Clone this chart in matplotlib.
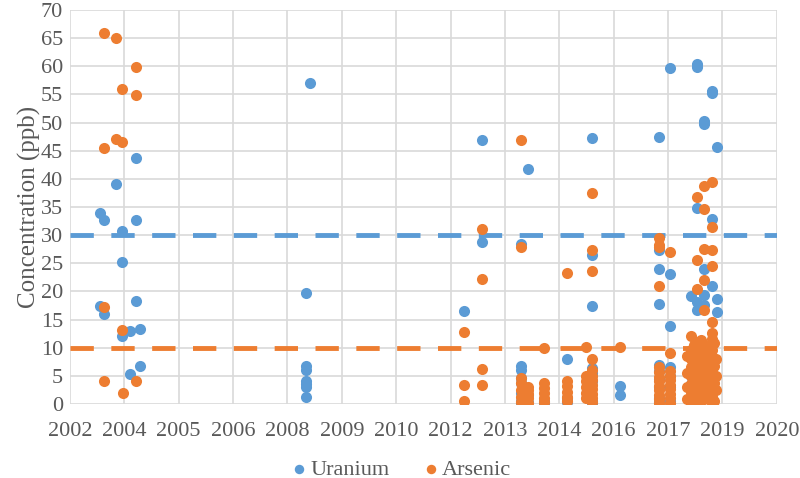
import matplotlib.pyplot as plt
import numpy as np

# Excel style date axis: starts 1 Sep 2002, major unit 500 days
axis_start = 2002.666
major_unit = 500 / 365.25
n_ticks = 14

uranium_year = [
    2003.43, 2003.43, 2003.53, 2003.53, 2003.83, 2003.98, 2003.98, 2003.98,
    2004.18, 2004.18, 2004.33, 2004.33, 2004.33, 2004.42, 2004.42,
    2008.62, 2008.62, 2008.62, 2008.62, 2008.62, 2008.62, 2008.62, 2008.70,
    2012.58, 2013.03, 2013.03,
    2014.01, 2014.01, 2014.01, 2014.01, 2014.01, 2014.01, 2014.01, 2014.01,
    2014.19, 2014.19, 2014.19, 2014.61, 2014.61,
    2015.18, 2015.18, 2015.18,
    2015.82, 2015.82, 2015.82, 2015.82, 2015.82, 2015.82, 2015.82, 2015.82,
    2016.52, 2016.52,
    2017.49, 2017.49, 2017.49, 2017.49, 2017.49, 2017.49, 2017.49, 2017.49, 2017.49, 2017.49,
    2017.78, 2017.78, 2017.78, 2017.78, 2017.78, 2017.78, 2017.78,
    2018.29, 2018.29, 2018.29, 2018.29,
    2018.46, 2018.46, 2018.46, 2018.46, 2018.46, 2018.46,
    2018.62, 2018.62, 2018.62, 2018.62, 2018.62,
    2018.84, 2018.84, 2018.84, 2018.84,
    2018.96, 2018.96, 2018.96,
]
uranium_ppb = [
    34.0, 17.4, 32.6, 15.9, 39.0, 30.7, 25.3, 12.1,
    13.0, 5.4, 43.7, 32.7, 18.3, 13.4, 6.7,
    19.8, 6.8, 6.1, 4.0, 3.6, 3.0, 1.2, 57.1,
    16.6, 46.9, 28.8,
    28.5, 6.8, 6.0, 4.6, 3.7, 2.0, 0.6, 0.1,
    41.7, 1.5, 0.3, 0.1, 0.5,
    7.9, 0.4, 1.0,
    47.2, 26.5, 17.4, 6.3, 5.5, 4.0, 0.1, 0.5,
    3.1, 1.6,
    47.5, 27.4, 23.9, 17.8, 6.9, 5.8, 4.5, 3.0, 1.0, 0.3,
    59.7, 23.1, 13.8, 6.6, 5.0, 3.0, 0.5,
    19.1, 6.0, 4.9, 3.5,
    60.4, 59.9, 34.9, 18.2, 16.7, 5.5,
    50.3, 49.7, 24.0, 19.4, 17.6,
    55.6, 55.2, 32.8, 21.0,
    45.7, 18.7, 16.4,
]

arsenic_year = [
    2003.53, 2003.53, 2003.53, 2003.53, 2003.83, 2003.83,
    2003.98, 2003.98, 2003.98, 2004.01, 2004.33, 2004.33, 2004.33,
    2012.58, 2012.58, 2012.58,
    2013.03, 2013.03, 2013.03, 2013.03,
    2014.01, 2014.01, 2014.01, 2014.01, 2014.01, 2014.01, 2014.01,
    2014.19, 2014.19, 2014.19, 2014.19, 2014.19,
    2014.61, 2014.61, 2014.61, 2014.61, 2014.61, 2014.61,
    2015.18, 2015.18, 2015.18, 2015.18, 2015.18, 2015.18,
    2015.67, 2015.67, 2015.67, 2015.67, 2015.67, 2015.67,
    2015.82, 2015.82, 2015.82, 2015.82, 2015.82, 2015.82,
    2015.82, 2015.82, 2015.82, 2015.82, 2015.82, 2015.82,
    2016.52,
    2017.49, 2017.49, 2017.49, 2017.49, 2017.49, 2017.49, 2017.49,
    2017.49, 2017.49, 2017.49, 2017.49, 2017.49, 2017.49,
    2017.78, 2017.78, 2017.78, 2017.78, 2017.78, 2017.78, 2017.78,
    2017.78, 2017.78, 2017.78,
    2018.20, 2018.20, 2018.20, 2018.20,
    2018.29, 2018.29, 2018.29, 2018.29, 2018.29, 2018.29, 2018.29, 2018.29, 2018.29,
    2018.38, 2018.38, 2018.38, 2018.38,
    2018.46, 2018.46, 2018.46, 2018.46, 2018.46, 2018.46, 2018.46,
    2018.46, 2018.46, 2018.46, 2018.46,
    2018.55, 2018.55, 2018.55, 2018.55, 2018.55, 2018.55, 2018.55, 2018.55,
    2018.62, 2018.62, 2018.62, 2018.62, 2018.62, 2018.62,
    2018.62, 2018.62, 2018.62, 2018.62, 2018.62, 2018.62,
    2018.70, 2018.70, 2018.70, 2018.70,
    2018.74, 2018.74, 2018.74, 2018.74, 2018.74,
    2018.84, 2018.84, 2018.84, 2018.84, 2018.84, 2018.84, 2018.84,
    2018.84, 2018.84, 2018.84, 2018.84, 2018.84, 2018.84, 2018.84,
    2018.88, 2018.88, 2018.88, 2018.88,
    2018.93, 2018.93, 2018.93,
]
arsenic_ppb = [
    66.0, 45.5, 17.2, 4.1, 65.1, 47.0,
    55.9, 46.6, 13.1, 1.9, 59.9, 54.9, 4.1,
    12.8, 3.4, 0.6,
    31.0, 22.2, 6.2, 3.4,
    46.9, 27.9, 4.6, 3.7, 2.5, 1.3, 0.4,
    3.0, 2.5, 1.8, 1.0, 0.2,
    10.0, 3.7, 2.8, 1.9, 1.0, 0.4,
    23.2, 4.0, 3.1, 2.2, 1.3, 0.5,
    10.2, 4.9, 4.0, 3.0, 2.0, 1.0,
    37.4, 27.4, 23.6, 7.9, 6.0, 5.0,
    4.2, 3.4, 2.6, 1.8, 1.0, 0.3,
    10.2,
    29.4, 28.2, 27.9, 21.0, 6.5, 5.6, 4.8,
    4.0, 3.2, 2.4, 1.6, 0.8, 0.1,
    27.0, 9.0, 5.8, 5.0, 4.2, 3.4, 2.6,
    1.8, 1.0, 0.2,
    8.5, 5.5, 3.0, 0.8,
    12.1, 9.6, 8.0, 6.5, 5.0, 3.5, 2.2, 1.0, 0.2,
    10.5, 7.0, 4.0, 1.5,
    36.7, 25.6, 20.5, 11.0, 9.0, 7.5, 6.0,
    4.5, 3.0, 1.5, 0.3,
    11.4, 9.8, 8.3, 6.8, 5.3, 3.8, 2.4, 0.9,
    38.8, 34.6, 27.6, 22.1, 16.7, 10.5,
    8.8, 7.2, 5.6, 4.0, 2.4, 0.8,
    9.0, 6.5, 4.0, 1.8,
    10.0, 7.8, 5.5, 3.2, 1.0,
    39.4, 31.4, 27.4, 24.5, 14.6, 12.6, 11.5,
    9.5, 7.8, 6.2, 4.5, 2.9, 1.3, 0.2,
    10.8, 6.8, 3.8, 0.6,
    8.0, 5.0, 2.5,
]

uranium_limit = 30
arsenic_limit = 10

blue = "#5B9BD5"
orange = "#ED7D31"
grid = "#D9D9D9"
text = "#595959"

plt.rcParams["font.family"] = ["Liberation Serif", "DejaVu Serif"]

fig = plt.figure(figsize=(8, 4.78), dpi=100)
ax = fig.add_axes([0.0875, 0.155, 0.8835, 0.824])

x_ticks = axis_start + np.arange(n_ticks) * major_unit
x_min, x_max = x_ticks[0], x_ticks[-1]

ax.plot([x_min, x_max], [uranium_limit, uranium_limit], color=blue, lw=3.5,
        dashes=(4.8, 3.6), zorder=2)
ax.plot([x_min, x_max], [arsenic_limit, arsenic_limit], color=orange, lw=3.5,
        dashes=(4.8, 3.6), zorder=2)

ax.scatter(uranium_year, uranium_ppb, s=64, color=blue, label="Uranium",
           zorder=3, linewidths=0)
ax.scatter(arsenic_year, arsenic_ppb, s=64, color=orange, label="Arsenic",
           zorder=4, linewidths=0)

ax.set_xlim(x_min, x_max)
ax.set_ylim(0, 70)
ax.set_xticks(x_ticks)
ax.set_xticklabels([str(int(np.floor(t + 1e-6))) for t in x_ticks])
ax.set_yticks(np.arange(0, 71, 5))

for s in ax.spines.values():
    s.set_visible(False)
ax.grid(True, color=grid, lw=1.2, zorder=0)
ax.set_axisbelow(True)
ax.tick_params(length=0, labelsize=16, colors=text)
ax.tick_params(axis="x", pad=13)
ax.tick_params(axis="y", pad=5)

ax.set_ylabel("Concentration (ppb)", fontsize=18, color=text, labelpad=0)

fig.legend(loc="lower center", ncol=2, frameon=False, fontsize=16,
           bbox_to_anchor=(0.5, -0.045), handletextpad=0.05, handlelength=0.9,
           columnspacing=1.4, markerscale=0.85, labelcolor=text)

fig.savefig("out.png", dpi=100)
